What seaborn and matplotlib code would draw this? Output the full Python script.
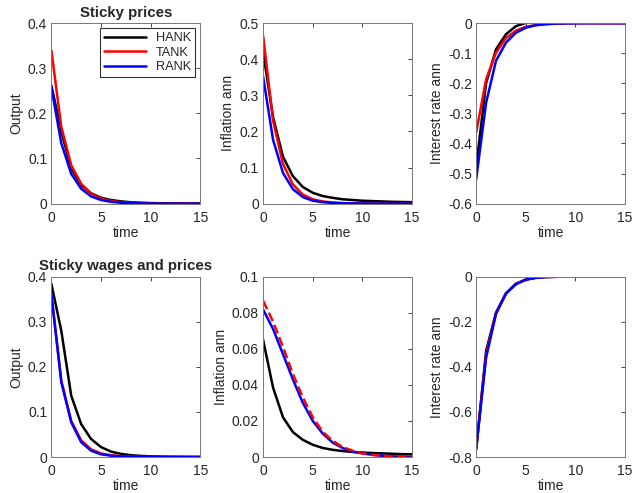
import matplotlib
matplotlib.use("Agg")
import matplotlib.pyplot as plt
import matplotlib.ticker as mticker
import pandas as pd
import seaborn as sns
import numpy as np

time = list(range(16))
models = ["HANK", "TANK", "RANK"]
colors = {"HANK": "#000000", "TANK": "#ff0000", "RANK": "#0000ff"}

# sticky prices
sp_output_hank = [0.262, 0.160, 0.078, 0.041, 0.023, 0.013, 0.008, 0.005, 0.003, 0.002, 0.0012, 0.0008, 0.0005, 0.0003, 0.0002, 0.0001]
sp_output_tank = [0.340, 0.170, 0.085, 0.044, 0.022, 0.011, 0.006, 0.003, 0.0015, 0.0008, 0.0004, 0.0002, 0.0001, 0.0001, 0.0, 0.0]
sp_output_rank = [0.258, 0.134, 0.066, 0.033, 0.016, 0.008, 0.004, 0.002, 0.001, 0.0005, 0.0003, 0.0001, 0.0001, 0.0, 0.0, 0.0]

sp_infl_hank = [0.420, 0.240, 0.130, 0.076, 0.046, 0.030, 0.021, 0.016, 0.012, 0.010, 0.008, 0.007, 0.006, 0.005, 0.0045, 0.004]
sp_infl_tank = [0.465, 0.230, 0.110, 0.053, 0.025, 0.012, 0.006, 0.003, 0.0015, 0.0008, 0.0004, 0.0002, 0.0001, 0.0, 0.0, 0.0]
sp_infl_rank = [0.352, 0.177, 0.085, 0.040, 0.018, 0.008, 0.004, 0.002, 0.001, 0.0005, 0.0002, 0.0001, 0.0, 0.0, 0.0, 0.0]

sp_rate_hank = [-0.480, -0.200, -0.087, -0.037, -0.010, 0.001, 0.003, 0.003, 0.002, 0.0015, 0.001, 0.0008, 0.0005, 0.0003, 0.0002, 0.0001]
sp_rate_tank = [-0.365, -0.187, -0.098, -0.050, -0.025, -0.012, -0.006, -0.003, -0.0015, -0.0008, -0.0004, -0.0002, -0.0001, 0.0, 0.0, 0.0]
sp_rate_rank = [-0.520, -0.265, -0.125, -0.065, -0.032, -0.015, -0.007, -0.0035, -0.0017, -0.0008, -0.0004, -0.0002, -0.0001, 0.0, 0.0, 0.0]

# sticky wages and prices
sw_output_hank = [0.384, 0.280, 0.136, 0.073, 0.040, 0.022, 0.012, 0.007, 0.004, 0.0025, 0.0015, 0.001, 0.0006, 0.0004, 0.0002, 0.0001]
sw_output_tank = [0.360, 0.170, 0.080, 0.037, 0.017, 0.008, 0.004, 0.002, 0.001, 0.0005, 0.0002, 0.0001, 0.0, 0.0, 0.0, 0.0]
sw_output_rank = [0.362, 0.166, 0.077, 0.033, 0.014, 0.006, 0.003, 0.0013, 0.0006, 0.0003, 0.0001, 0.0, 0.0, 0.0, 0.0, 0.0]

sw_infl_hank = [0.065, 0.0385, 0.022, 0.0138, 0.0095, 0.0068, 0.005, 0.004, 0.0033, 0.0028, 0.0025, 0.0022, 0.002, 0.0018, 0.0016, 0.0015]
sw_infl_tank = [0.0866, 0.075, 0.061, 0.046, 0.033, 0.022, 0.014, 0.009, 0.0055, 0.0035, 0.002, 0.0012, 0.0007, 0.0004, 0.0002, 0.0001]
sw_infl_rank = [0.0817, 0.071, 0.057, 0.043, 0.030, 0.020, 0.013, 0.008, 0.005, 0.003, 0.002, 0.0012, 0.0007, 0.0004, 0.0002, 0.0001]

sw_rate_hank = [-0.765, -0.330, -0.160, -0.074, -0.032, -0.013, -0.005, -0.002, -0.001, -0.0004, -0.0002, -0.0001, 0.0, 0.0, 0.0, 0.0]
sw_rate_tank = [-0.765, -0.345, -0.162, -0.075, -0.033, -0.014, -0.005, -0.002, -0.001, -0.0004, -0.0002, -0.0001, 0.0, 0.0, 0.0, 0.0]
sw_rate_rank = [-0.765, -0.360, -0.165, -0.076, -0.034, -0.014, -0.006, -0.002, -0.001, -0.0004, -0.0002, -0.0001, 0.0, 0.0, 0.0, 0.0]

panels = [
    # (row, col, ylabel, series, ylim, yticks, title, dashed TANK)
    (0, 0, "Output", [sp_output_hank, sp_output_tank, sp_output_rank], (0, 0.4), [0, 0.1, 0.2, 0.3, 0.4], "Sticky prices", False),
    (0, 1, "Inflation ann", [sp_infl_hank, sp_infl_tank, sp_infl_rank], (0, 0.5), [0, 0.1, 0.2, 0.3, 0.4, 0.5], None, False),
    (0, 2, "Interest rate ann", [sp_rate_hank, sp_rate_tank, sp_rate_rank], (-0.6, 0), [-0.6, -0.5, -0.4, -0.3, -0.2, -0.1, 0], None, False),
    (1, 0, "Output", [sw_output_hank, sw_output_tank, sw_output_rank], (0, 0.4), [0, 0.1, 0.2, 0.3, 0.4], "Sticky wages and prices", False),
    (1, 1, "Inflation ann", [sw_infl_hank, sw_infl_tank, sw_infl_rank], (0, 0.1), [0, 0.02, 0.04, 0.06, 0.08, 0.1], None, True),
    (1, 2, "Interest rate ann", [sw_rate_hank, sw_rate_tank, sw_rate_rank], (-0.8, 0), [-0.8, -0.6, -0.4, -0.2, 0], None, False),
]

sns.set_theme(style="white")
plt.rcParams["font.family"] = ["Liberation Sans", "DejaVu Sans"]
plt.rcParams["font.size"] = 9

fig = plt.figure(figsize=(6.34, 4.93), dpi=100)
lefts = [0.081, 0.415, 0.751]
bottoms = [0.587, 0.073]
w, h = 0.235, 0.366

for row, col, ylabel, series, ylim, yticks, title, dashed in panels:
    ax = fig.add_axes([lefts[col], bottoms[row], w, h])
    df = pd.DataFrame({"time": time * 3,
                       "value": series[0] + series[1] + series[2],
                       "model": [m for m in models for _ in time]})
    order = ["HANK", "RANK", "TANK"] if dashed else models
    for m in order:
        sub = df[df["model"] == m]
        ls = "--" if (dashed and m == "TANK") else "-"
        sns.lineplot(data=sub, x="time", y="value", color=colors[m], linewidth=1.8,
                     linestyle=ls, label=m, ax=ax, legend=False)
    ax.set_xlim(0, 15)
    ax.set_ylim(*ylim)
    ax.set_xticks([0, 5, 10, 15])
    ax.set_yticks(yticks)
    ax.yaxis.set_major_formatter(mticker.FuncFormatter(lambda v, p: f"{round(v, 3):g}"))
    ax.set_xlabel("time", fontsize=10, color="#262626", labelpad=1)
    ax.set_ylabel(ylabel, fontsize=10, color="#262626", labelpad=3)
    ax.tick_params(axis="both", direction="in", top=True, right=True, length=3, width=0.6,
                   labelsize=10, colors="#262626")
    ax.tick_params(axis="x", pad=5)
    ax.tick_params(axis="y", pad=3)
    for s in ax.spines.values():
        s.set_color("#777777")
        s.set_linewidth(0.7)
    if title:
        ax.set_title(title, fontsize=10.8, fontweight="bold", pad=4.5)
    if row == 0 and col == 0:
        handles = [plt.Line2D([], [], color=colors[m], lw=1.8) for m in models]
        leg = ax.legend(handles, models, loc="upper right", fontsize=9.2, frameon=True,
                        fancybox=False, edgecolor="black", handlelength=3.3,
                        borderaxespad=0.4, borderpad=0.3, labelspacing=0.2,
                        handletextpad=0.8)
        leg.get_frame().set_linewidth(0.8)

fig.savefig("out.png", dpi=100)
